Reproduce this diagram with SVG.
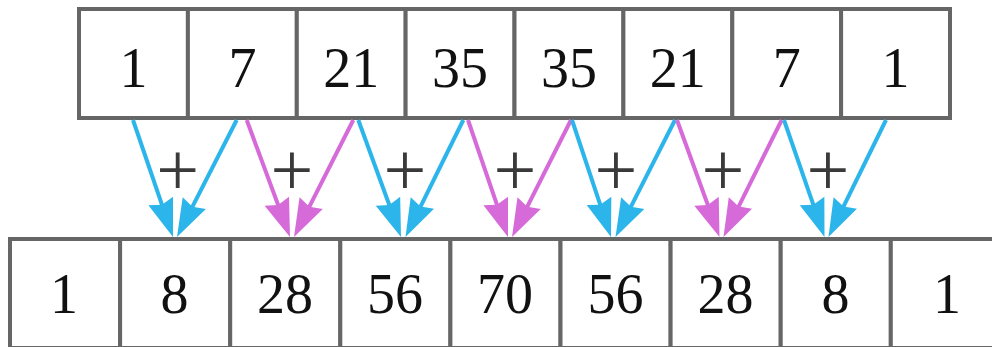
<svg xmlns="http://www.w3.org/2000/svg" width="992" height="347" viewBox="0 0 992 347">
<style>
.cell{fill:#fff;stroke:#666;stroke-width:4}
.num{font-family:"Liberation Serif","Times New Roman",serif;font-size:56px;fill:#111;text-anchor:middle}
.plus{font-family:"Liberation Serif","Times New Roman",serif;font-size:76px;fill:#3a3a3a;text-anchor:middle}
.b{stroke:#2bb5ea;stroke-width:4;fill:none}
.m{stroke:#d56ad8;stroke-width:4;fill:none}
</style>
<defs>
<marker id="hb" markerUnits="userSpaceOnUse" markerWidth="40" markerHeight="30" refX="18" refY="0" orient="auto" overflow="visible"><path d="M0,-13 L38,0 L0,13 L4,0 Z" fill="#2bb5ea"/></marker>
<marker id="hm" markerUnits="userSpaceOnUse" markerWidth="40" markerHeight="30" refX="18" refY="0" orient="auto" overflow="visible"><path d="M0,-13 L38,0 L0,13 L4,0 Z" fill="#d56ad8"/></marker>
</defs>
<rect width="992" height="347" fill="#fff"/>
<g id="top">
<g id="t1"><rect class="cell" x="79" y="9" width="108.9" height="109"/><text class="num" x="133.5" y="87">1</text></g>
<g id="t2"><rect class="cell" x="187.9" y="9" width="108.9" height="109"/><text class="num" x="242.4" y="87">7</text></g>
<g id="t3"><rect class="cell" x="296.8" y="9" width="108.9" height="109"/><text class="num" x="351.2" y="87">21</text></g>
<g id="t4"><rect class="cell" x="405.6" y="9" width="108.9" height="109"/><text class="num" x="460" y="87">35</text></g>
<g id="t5"><rect class="cell" x="514.5" y="9" width="108.9" height="109"/><text class="num" x="569" y="87">35</text></g>
<g id="t6"><rect class="cell" x="623.4" y="9" width="108.9" height="109"/><text class="num" x="677.8" y="87">21</text></g>
<g id="t7"><rect class="cell" x="732.3" y="9" width="108.9" height="109"/><text class="num" x="786.7" y="87">7</text></g>
<g id="t8"><rect class="cell" x="841.1" y="9" width="108.9" height="109"/><text class="num" x="895.5" y="87">1</text></g>
</g>
<g id="bottom">
<g id="b1"><rect class="cell" x="10" y="239" width="110.1" height="109"/><text class="num" x="64" y="313">1</text></g>
<g id="b2"><rect class="cell" x="120.1" y="239" width="110.1" height="109"/><text class="num" x="174.5" y="313">8</text></g>
<g id="b3"><rect class="cell" x="230.2" y="239" width="110.1" height="109"/><text class="num" x="285" y="313">28</text></g>
<g id="b4"><rect class="cell" x="340.3" y="239" width="110.1" height="109"/><text class="num" x="395" y="313">56</text></g>
<g id="b5"><rect class="cell" x="450.4" y="239" width="110.1" height="109"/><text class="num" x="505" y="313">70</text></g>
<g id="b6"><rect class="cell" x="560.5" y="239" width="110.1" height="109"/><text class="num" x="615.5" y="313">56</text></g>
<g id="b7"><rect class="cell" x="670.6" y="239" width="110.1" height="109"/><text class="num" x="725.5" y="313">28</text></g>
<g id="b8"><rect class="cell" x="780.7" y="239" width="110.1" height="109"/><text class="num" x="835.5" y="313">8</text></g>
<g id="b9"><rect class="cell" x="890.8" y="239" width="110.1" height="109"/><text class="num" x="947" y="313">1</text></g>
</g>
<g id="connectors">
<line class="b" x1="133" y1="120" x2="166.53" y2="218.08" marker-end="url(#hb)"/>
<line class="b" x1="236.7" y1="120" x2="186.09" y2="219.19" marker-end="url(#hb)"/>
<line class="m" x1="246.7" y1="120" x2="283.06" y2="218.24" marker-end="url(#hm)"/>
<line class="m" x1="353.3" y1="120" x2="303.04" y2="219.16" marker-end="url(#hm)"/>
<line class="b" x1="358.3" y1="120" x2="394.14" y2="218.21" marker-end="url(#hb)"/>
<line class="b" x1="463.3" y1="120" x2="414.36" y2="219.07" marker-end="url(#hb)"/>
<line class="m" x1="468" y1="120" x2="501.53" y2="218.08" marker-end="url(#hm)"/>
<line class="m" x1="571" y1="120" x2="521.01" y2="219.14" marker-end="url(#hm)"/>
<line class="b" x1="572" y1="120" x2="604.68" y2="218.03" marker-end="url(#hb)"/>
<line class="b" x1="675" y1="120" x2="624.57" y2="219.17" marker-end="url(#hb)"/>
<line class="m" x1="677" y1="120" x2="712.67" y2="218.2" marker-end="url(#hm)"/>
<line class="m" x1="781.7" y1="120" x2="732.41" y2="219.09" marker-end="url(#hm)"/>
<line class="b" x1="784" y1="120" x2="817.96" y2="218.1" marker-end="url(#hb)"/>
<line class="b" x1="886" y1="120" x2="837.32" y2="219.05" marker-end="url(#hb)"/>
</g>
<g id="plus-labels">
<text class="plus" x="177.7" y="195">+</text>
<text class="plus" x="292" y="195">+</text>
<text class="plus" x="405" y="195">+</text>
<text class="plus" x="515" y="195">+</text>
<text class="plus" x="616" y="195">+</text>
<text class="plus" x="723" y="195">+</text>
<text class="plus" x="828" y="195">+</text>
</g>
</svg>
